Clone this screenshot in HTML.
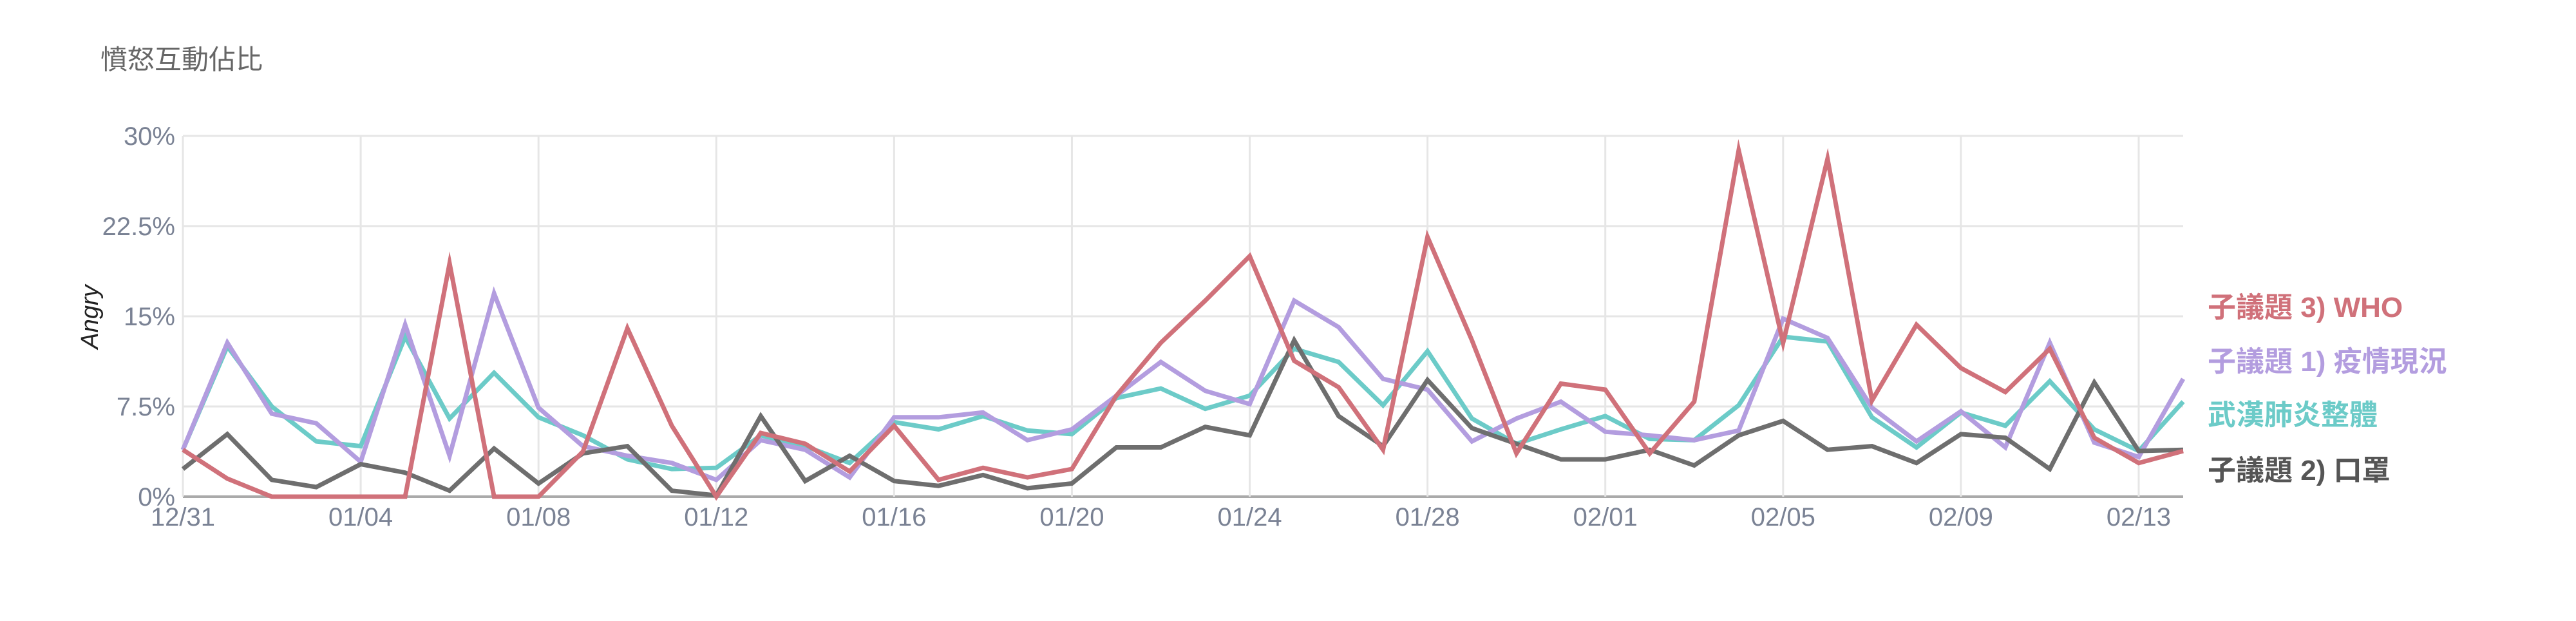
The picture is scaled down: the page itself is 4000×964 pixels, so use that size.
<!DOCTYPE html>
<html><head><meta charset="utf-8"><style>
html,body{margin:0;padding:0;background:#fff;width:4000px;height:964px;overflow:hidden}
svg{display:block;font-family:"Liberation Sans","Noto Sans CJK TC",sans-serif}
</style></head><body>
<svg id="chart" width="4000" height="964" viewBox="0 0 4000 964" xmlns="http://www.w3.org/2000/svg">
<text x="156" y="107" font-size="42" fill="#666">憤怒互動佔比</text>
<text transform="translate(152,492) rotate(-90)" text-anchor="middle" font-size="38" font-style="italic" fill="#222">Angry</text>
<g id="grid"></g>
<g id="series"></g>
<g id="legend"></g>
</svg>
<script>
const dates = ["12/31","01/01","01/02","01/03","01/04","01/05","01/06","01/07","01/08","01/09","01/10","01/11","01/12","01/13","01/14","01/15","01/16","01/17","01/18","01/19","01/20","01/21","01/22","01/23","01/24","01/25","01/26","01/27","01/28","01/29","01/30","01/31","02/01","02/02","02/03","02/04","02/05","02/06","02/07","02/08","02/09","02/10","02/11","02/12","02/13","02/14"];
const yTicks = [0,7.5,15,22.5,30];
const yTickLabels = ["0%","7.5%","15%","22.5%","30%"];
const xTickLabels = ["12/31","01/04","01/08","01/12","01/16","01/20","01/24","01/28","02/01","02/05","02/09","02/13"];
const whoValues = [3.9,1.5,0,0,0,0,19.4,0,0,3.75,14.0,5.9,0,5.3,4.4,2.1,5.9,1.4,2.4,1.6,2.3,8.4,12.8,16.3,20.0,11.3,9.1,3.9,21.6,13.0,3.6,9.4,8.9,3.6,7.9,28.8,12.8,28.1,8.0,14.3,10.7,8.7,12.3,4.9,2.8,3.8];
const epidemicValues = [3.9,12.8,6.9,6.1,2.9,14.3,3.4,16.9,7.4,4.2,3.4,2.8,1.4,4.7,3.9,1.6,6.6,6.6,7.0,4.7,5.6,8.4,11.2,8.8,7.7,16.3,14.1,9.8,8.9,4.6,6.5,7.9,5.4,5.1,4.7,5.5,14.8,13.2,7.4,4.6,7.1,4.1,12.8,4.5,3.3,9.8];
const overallValues = [3.9,12.5,7.5,4.6,4.2,13.3,6.5,10.3,6.6,5.1,3.1,2.3,2.4,5.1,4.2,2.8,6.2,5.6,6.7,5.5,5.2,8.2,9.0,7.3,8.4,12.3,11.2,7.6,12.1,6.5,4.4,5.6,6.7,4.8,4.7,7.6,13.3,12.9,6.6,4.1,7.0,5.9,9.6,5.6,3.8,7.9];
const maskValues = [2.3,5.2,1.4,0.8,2.7,2.0,0.5,4.0,1.1,3.6,4.2,0.5,0.1,6.7,1.3,3.4,1.3,0.9,1.8,0.7,1.1,4.1,4.1,5.8,5.1,13.0,6.7,4.2,9.7,5.7,4.4,3.1,3.1,3.9,2.6,5.1,6.3,3.9,4.2,2.8,5.2,4.9,2.3,9.5,3.8,3.9];

const NS="http://www.w3.org/2000/svg";
const X0=284, X1=3390, Y0=771, Y1=211, YMAX=30;
const xScale = i => X0 + (X1-X0)*i/(dates.length-1);
const yScale = v => Y0 - (Y0-Y1)*v/YMAX;
function mk(tag, attrs, parent){const e=document.createElementNS(NS,tag);for(const k in attrs)e.setAttribute(k,attrs[k]);parent.appendChild(e);return e;}
const grid=document.getElementById('grid');
yTicks.forEach((t,k)=>{
  const y=yScale(t);
  const l=mk('line',{x1:X0,x2:X1,y1:y,y2:y,stroke:t===0?'#aaa':'#e6e6e6','stroke-width':t===0?4:3},grid);
  
  
  const tx=mk('text',{x:272,y:y+14,'text-anchor':'end','font-size':40,fill:'#7a8294'},grid);
  tx.textContent=yTickLabels[k];
  
  
});
xTickLabels.forEach(lbl=>{
  const i=dates.indexOf(lbl);const x=xScale(i);
  const l=mk('line',{x1:x,x2:x,y1:Y1,y2:Y0,stroke:'#e6e6e6','stroke-width':3},grid);
  
  
  const tx=mk('text',{x:x,y:816,'text-anchor':'middle','font-size':40,fill:'#7a8294'},grid);
  tx.textContent=lbl;
  
  
});
const seriesG=document.getElementById('series');
const series=[
  {name:'overall-line',vals:overallValues,color:'#6ccbc8'},
  {name:'epidemic-line',vals:epidemicValues,color:'#b39ddf'},
  {name:'mask-line',vals:maskValues,color:'#6e6e6e'},
  {name:'who-line',vals:whoValues,color:'#d0717a'}
];
series.forEach(s=>{
  const pts=s.vals.map((v,i)=>xScale(i).toFixed(1)+','+yScale(v).toFixed(1)).join(' ');
  const p=mk('polyline',{points:pts,fill:'none',stroke:s.color,'stroke-width':7,'stroke-linejoin':'miter','stroke-miterlimit':10},seriesG);
  
  
});
const legend=document.getElementById('legend');
const legendItems=[
  {t:'子議題 3) WHO',c:'#d0717a',y:492,n:'legend-who'},
  {t:'子議題 1) 疫情現況',c:'#b39ddf',y:576,n:'legend-epidemic'},
  {t:'武漢肺炎整體',c:'#6ccbc8',y:659,n:'legend-overall'},
  {t:'子議題 2) 口罩',c:'#555',y:745,n:'legend-mask'}
];
legendItems.forEach(it=>{
  const tx=mk('text',{x:3428,y:it.y,'font-size':44,fill:it.c,'font-weight':'bold'},legend);
  tx.textContent=it.t;
  
  
});
</script>
</body></html>
